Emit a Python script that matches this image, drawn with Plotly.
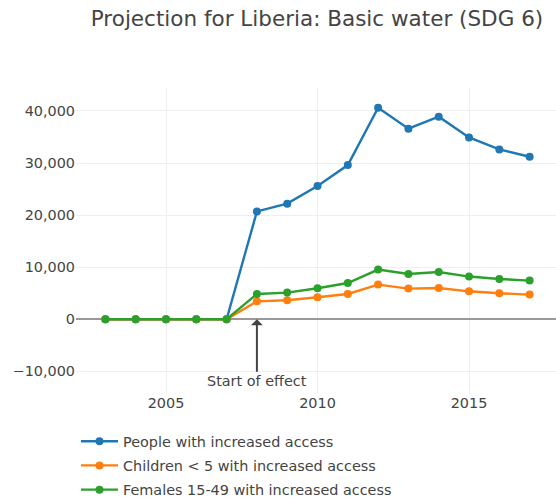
import plotly.graph_objects as go

years = list(range(2003, 2018))
people = [0, 0, 0, 0, 0, 20700, 22200, 25600, 29600, 40600, 36600, 38900, 34900, 32600, 31200]
children = [0, 0, 0, 0, 0, 3450, 3650, 4220, 4860, 6660, 5890, 6010, 5370, 4990, 4740]
females = [0, 0, 0, 0, 0, 4860, 5120, 5950, 6970, 9540, 8700, 9080, 8200, 7740, 7430]

names = ["People with increased access", "Children < 5 with increased access",
         "Females 15-49 with increased access"]
colors = ["#1f77b4", "#ff7f0e", "#2ca02c"]
title = "Projection for Liberia: Basic water (SDG 6)"
effect_year = 2008
effect_label = "Start of effect"

FONT = "DejaVu Sans, Verdana, sans-serif"

fig = go.Figure()
for i, (name, vals, col) in enumerate(zip(names, [people, children, females], colors)):
    fig.add_trace(go.Scatter(
        x=years, y=vals, name=name, mode="lines+markers",
        legendgroup=f"g{i}",
        line=dict(color=col, width=2.4),
        marker=dict(color=col, size=8),
    ))

fig.add_annotation(
    x=effect_year, y=0, xref="x", yref="y", text=effect_label,
    showarrow=True, arrowhead=1, arrowwidth=2, arrowsize=1, arrowcolor="#444",
    ax=0, ay=62, font=dict(size=14.4, color="#444", family=FONT),
)

fig.update_layout(
    template="none",
    width=556, height=500,
    margin=dict(l=76, r=0, t=88, b=107, autoexpand=False),
    paper_bgcolor="white", plot_bgcolor="white",
    font=dict(family=FONT, size=14.4, color="#444"),
    title=dict(text=title, x=317/556, xanchor="center", xref="container",
               y=1 - 18/500, yanchor="middle", yref="container",
               font=dict(size=21.5, color="#444", family=FONT)),
    showlegend=True,
    legend=dict(orientation="v", x=0, xanchor="left", y=-0.106, yanchor="top",
                font=dict(size=14.4, color="#444", family=FONT),
                itemwidth=37,
                bgcolor="rgba(0,0,0,0)", tracegroupgap=2.5, traceorder="grouped"),
    xaxis=dict(range=[2002.03, 2017.87], tickvals=[2005, 2010, 2015],
               showgrid=True, gridcolor="#eee", gridwidth=1.2,
               zeroline=False, showline=False, ticks="", automargin=False,
               tickfont=dict(size=14.4, color="#444")),
    yaxis=dict(range=[-14150, 44400], tickvals=[-10000, 0, 10000, 20000, 30000, 40000],
               tickformat=",", showgrid=True, gridcolor="#eee", gridwidth=1.2,
               zeroline=True, zerolinecolor="#999", zerolinewidth=2.4,
               showline=False, ticks="", automargin=False,
               tickfont=dict(size=14.4, color="#444")),
)

fig.write_html("out.html", config={"displayModeBar": False},
               post_script="document.body.style.margin='0';document.body.style.overflow='hidden';")
